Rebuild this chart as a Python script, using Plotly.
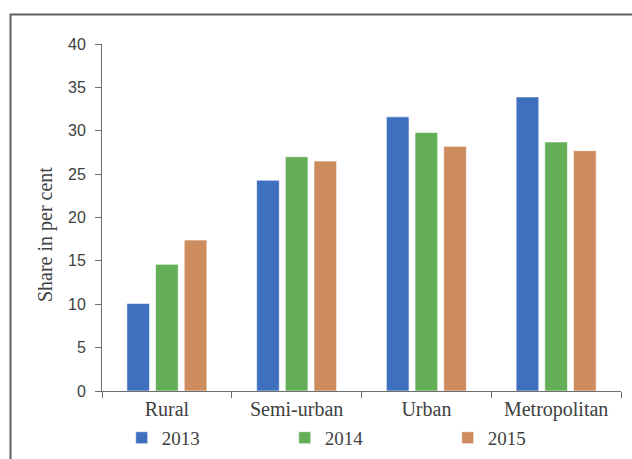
import plotly.graph_objects as go

# Share of each population group by year (per cent)
categories = ["Rural", "Semi-urban", "Urban", "Metropolitan"]
years = ["2013", "2014", "2015"]
share_2013 = [10.1, 24.3, 31.6, 33.9]
share_2014 = [14.6, 27.0, 29.8, 28.7]
share_2015 = [17.4, 26.5, 28.2, 27.7]
y_ticks = [0, 5, 10, 15, 20, 25, 30, 35, 40]
y_title = "Share in per cent"

series = [share_2013, share_2014, share_2015]
colors = ["#3F70BF", "#63AE57", "#CD8C5E"]

TEXT = "#404040"
AXIS = "#6E6E6E"
SERIF = "Liberation Serif, Times New Roman, serif"
SANS = "Liberation Sans, Arial, sans-serif"

fig = go.Figure()
for name, vals, col in zip(years, series, colors):
    fig.add_trace(go.Bar(
        x=categories, y=vals, name=name,
        marker=dict(color=col, line=dict(color="white", width=0.6)),
    ))

fig.update_layout(
    width=632, height=459,
    margin=dict(l=102, r=11, t=44, b=68, autoexpand=False),
    paper_bgcolor="white", plot_bgcolor="white",
    barmode="group", bargap=0.337, bargroupgap=0.21,
    showlegend=True,
    legend=dict(
        orientation="h", x=0.038, xanchor="left", y=-0.135, yanchor="middle",
        font=dict(family=SERIF, size=19, color=TEXT),
        entrywidth=118, entrywidthmode="pixels",
        bgcolor="rgba(0,0,0,0)", borderwidth=0,
    ),
    xaxis=dict(
        showline=True, linecolor=AXIS, linewidth=1,
        ticks="outside", tickson="boundaries", ticklen=6, tickcolor=AXIS,
        tickfont=dict(family=SERIF, size=20, color=TEXT),
        showgrid=False, zeroline=False,
    ),
    yaxis=dict(
        range=[0, 40], tickvals=y_ticks,
        showline=True, linecolor=AXIS, linewidth=1,
        ticks="outside", ticklen=6, tickcolor=AXIS, ticklabelstandoff=6,
        tickfont=dict(family=SANS, size=16, color=TEXT),
        showgrid=False, zeroline=False,
    ),
    annotations=[dict(
        text=y_title, textangle=-90, showarrow=False,
        xref="paper", yref="paper", x=-0.11, y=0.452,
        xanchor="center", yanchor="middle",
        font=dict(family=SERIF, size=20, color=TEXT),
    )],
    shapes=[dict(
        type="path", xref="paper", yref="paper",
        path="M -0.1763 -0.25 L -0.1763 1.085 L 1.05 1.085",
        line=dict(color="#606060", width=2),
    )],
)

fig.write_html("out.html")
